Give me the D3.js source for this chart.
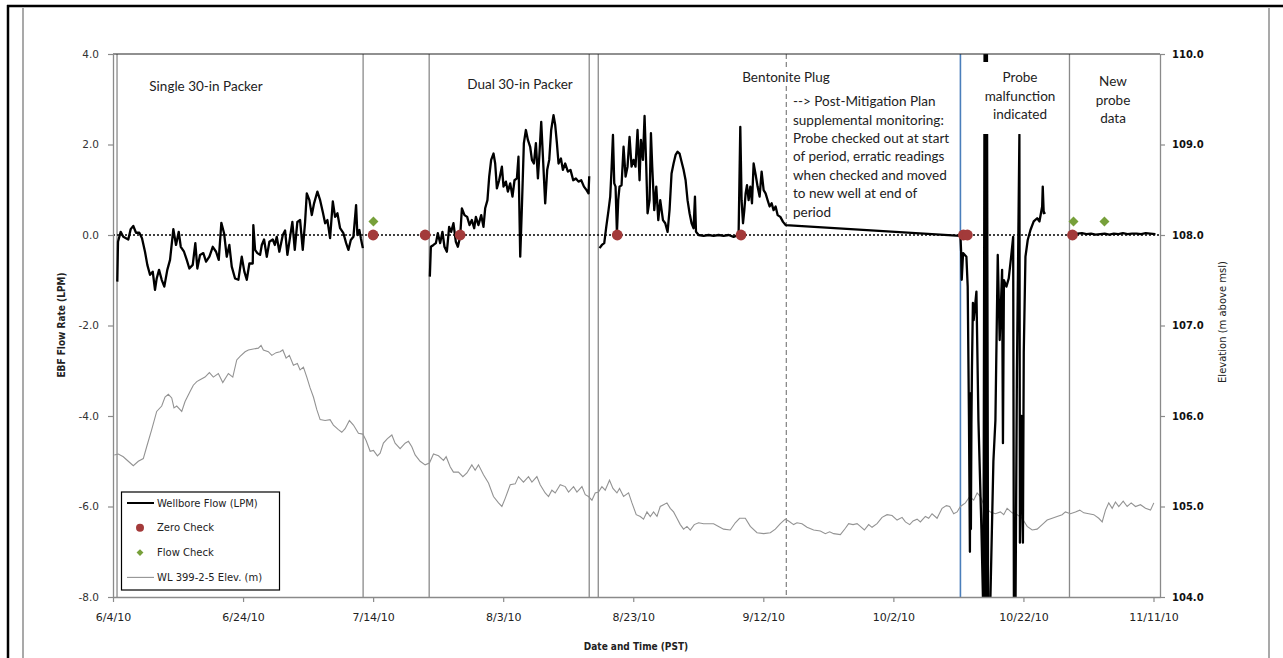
<!DOCTYPE html>
<html>
<head>
<meta charset="utf-8">
<script src="https://cdn.jsdelivr.net/npm/d3@7"></script>
<style>
  html, body { margin: 0; padding: 0; background: #fff; }
  svg { display: block; }
  .annot { font-family: Lato, "Open Sans", sans-serif; font-size: 13.5px; fill: #222; }
  .tick text { font-family: "DejaVu Sans", sans-serif; }
</style>
</head>
<body>
<svg id="chart" width="1283" height="658"></svg>
<script>
// ---- data (days after 6/4/10 00:00 PST, value) ----
const startDay = "2010-06-04";

// Wellbore flow (LPM), single 30-in packer
const flowSinglePacker = [
  [0.66,-1.03],[0.77,-0.15],[1.18,0.07],[1.58,-0.04],[2.35,-0.10],[2.72,0.13],[3.12,0.20],[3.54,0.05],
  [4.05,0.05],[4.46,-0.07],[4.92,-0.37],[5.28,-0.66],[5.69,-0.88],[6.11,-0.81],[6.46,-1.21],[6.72,-0.96],
  [7.08,-0.77],[7.49,-0.99],[7.89,-1.14],[8.35,-0.77],[8.77,-0.55],[9.28,0.13],[9.69,-0.22],[10.11,0.07],
  [10.42,-0.26],[10.92,-0.37],[11.34,-0.55],[11.74,-0.74],[12.26,-0.66],[12.66,-0.18],[12.97,-0.74],[13.38,-0.44],
  [13.89,-0.40],[14.31,-0.59],[14.82,-0.48],[15.34,-0.26],[15.85,-0.37],[16.26,-0.55],[16.66,0.27],[17.08,0.04],
  [17.49,-0.48],[17.89,-0.22],[18.26,-0.70],[18.77,-0.96],[19.28,-0.99],[19.80,-0.48],[20.20,-0.81],[20.57,-0.99],
  [20.97,-0.63],[21.49,-0.63],[21.58,0.22],[21.85,-0.33],[22.20,-0.40],[22.62,-0.44],[22.88,-0.22],[23.23,-0.10],
  [23.65,-0.48],[24.05,-0.15],[24.57,-0.10],[24.88,-0.22],[25.18,-0.04],[25.58,-0.37],[26.11,0.00],[26.46,0.10],
  [26.82,-0.44],[27.23,-0.04],[27.58,0.29],[27.95,-0.33],[28.35,0.29],[28.77,0.33],[29.18,-0.33],[29.54,0.29],
  [29.80,0.92],[30.20,0.77],[30.57,0.44],[30.92,0.70],[31.43,0.96],[31.85,0.77],[32.26,0.51],[32.62,0.26],
  [32.97,0.33],[33.38,-0.07],[33.80,0.74],[34.15,0.40],[34.51,0.48],[34.92,0.15],[35.43,0.04],[35.85,-0.18],
  [36.20,-0.33],[36.57,-0.11],[36.97,-0.04],[37.38,0.66],[37.58,0.00],[37.89,0.11],[38.11,-0.07],[38.42,-0.29]
];

// Wellbore flow (LPM), dual 30-in packer
const flowDualPacker = [
  [48.72,-0.92],[48.88,-0.26],[49.28,-0.22],[49.65,-0.18],[49.95,0.04],[50.31,-0.18],[50.66,0.07],[50.97,-0.26],
  [51.34,-0.37],[51.69,0.18],[52.00,0.07],[52.35,0.26],[52.72,-0.15],[53.03,-0.26],[53.38,-0.04],[53.65,0.59],
  [54.05,0.44],[54.46,0.40],[54.82,0.22],[55.18,0.33],[55.54,0.15],[55.80,0.40],[56.20,0.22],[56.62,0.44],
  [56.97,0.18],[57.23,0.59],[57.58,0.77],[57.85,1.29],[58.15,1.66],[58.51,1.80],[58.77,1.58],[59.03,1.03],
  [59.38,1.21],[59.80,1.51],[60.05,1.07],[60.42,1.18],[60.72,0.96],[61.08,1.14],[61.43,0.85],[61.74,1.21],
  [62.11,1.25],[62.35,1.73],[62.62,-0.48],[62.88,0.63],[63.18,2.03],[63.49,2.32],[63.80,2.10],[64.15,1.95],
  [64.42,1.66],[64.72,1.58],[65.03,2.03],[65.34,1.25],[65.58,1.80],[65.85,2.50],[66.11,1.73],[66.46,0.70],
  [66.77,1.44],[67.08,1.66],[67.38,2.32],[67.74,2.65],[68.00,2.43],[68.26,2.03],[68.51,1.58],[68.88,1.69],
  [69.18,1.44],[69.54,1.58],[69.95,1.40],[70.35,1.44],[70.77,1.21],[71.18,1.25],[71.58,1.18],[72.00,1.21],
  [72.42,1.07],[72.82,0.99],[73.12,0.92],[73.23,1.30]
];

// Wellbore flow (LPM), bentonite plug period through probe malfunction
const flowPlugPeriod = [
  [74.82,-0.29],[75.18,-0.22],[75.54,-0.18],[75.85,0.18],[76.20,0.55],[76.46,0.85],[76.66,1.44],[76.88,2.21],
  [77.08,1.14],[77.28,1.07],[77.49,0.04],[77.69,0.77],[77.89,1.07],[78.20,1.10],[78.51,1.95],[78.82,1.29],
  [79.12,1.51],[79.43,2.17],[79.74,1.51],[80.05,1.66],[80.35,1.51],[80.66,2.32],[80.97,1.21],[81.18,2.10],
  [81.49,1.66],[81.74,2.63],[82.00,1.51],[82.20,0.48],[82.51,0.77],[82.72,2.25],[82.92,1.51],[83.23,0.55],
  [83.54,1.07],[83.85,0.33],[84.15,0.77],[84.57,0.33],[84.92,0.26],[85.28,0.07],[85.58,0.55],[85.89,1.36],
  [86.20,1.58],[86.51,1.77],[86.82,1.84],[87.12,1.80],[87.43,1.62],[87.74,1.44],[88.05,1.21],[88.35,0.77],
  [88.66,0.48],[88.97,0.26],[89.28,0.15],[89.49,0.85],[89.65,0.07],[90.05,0.00],[90.82,-0.02],[91.58,0.00],
  [92.35,-0.02],[93.12,0.00],[93.89,-0.02],[94.66,0.00],[95.43,-0.04],[96.20,0.00],[96.46,2.39],[96.66,0.77],
  [96.88,0.26],[97.08,0.55],[97.28,0.92],[97.49,1.10],[97.74,0.77],[98.00,1.07],[98.26,0.70],[98.51,1.58],
  [98.82,1.33],[99.12,1.07],[99.43,0.85],[99.74,1.40],[100.05,0.99],[100.35,0.92],[100.66,0.77],[100.97,0.63],
  [101.28,0.70],[101.58,0.55],[101.89,0.63],[102.20,0.44],[102.62,0.40],[103.03,0.29],[103.43,0.22],
  [130.31,-0.02],[130.42,-0.37],[130.51,-0.99],[130.72,-0.40],[131.23,-0.48],[131.43,-1.14],[131.62,-4.0],
  [131.77,-7.0],[131.85,-3.5],[131.92,-6.5],[132.00,-4.2],[132.08,-3.0],[132.23,-1.5],[132.35,-1.88],[132.77,-1.25],
  [133.08,-4.1],[133.54,-6.5],[133.85,-8.5],[134.03,4.5],[134.20,-8.5],[134.38,4.5],[134.57,-8.5],[134.85,-8.5],
  [135.38,-5.0],[135.69,-4.1],[136.05,-0.44],[136.35,-2.32],[136.72,-0.77],[136.85,-4.6],[137.00,-1.0],[137.38,-1.14],
  [137.74,-0.96],[138.11,-0.48],[138.42,-0.04],[138.54,-8.5],[138.77,-8.5],[139.00,-3.0],[139.38,2.22],
  [139.46,-6.8],[139.69,-4.0],[139.92,-6.8],[140.05,-2.6],[140.31,-0.48],[140.66,-0.11],[141.08,0.11],
  [141.58,0.30],[142.11,0.37],[142.46,0.30],[142.88,0.63],[142.97,1.07],[143.12,0.48],[143.38,0.50]
];

// Wellbore flow (LPM), new probe
const flowNewProbe = [
  [147.58,0.00],[148.30,0.03],[149.00,0.04],[149.70,0.02],[150.40,0.03],[151.10,0.01],[151.80,0.02],
  [152.50,0.03],[153.20,0.01],[153.90,0.03],[154.60,0.02],[155.30,0.04],[156.00,0.02],[156.70,0.03],
  [157.40,0.03],[158.10,0.02],[158.80,0.04],[159.50,0.03],[160.30,0.02]
];

// Water level, well 399-2-5 (m above msl)
const wellElevation = [
  [0.20,105.57],[0.82,105.58],[1.58,105.55],[2.35,105.50],[3.12,105.45],[3.89,105.50],[4.66,105.53],[5.18,105.66],
  [5.95,105.85],[6.72,106.05],[7.49,106.11],[8.00,106.21],[8.51,106.24],[9.03,106.20],[9.38,106.09],[9.80,106.11],
  [10.57,106.05],[11.08,106.16],[11.85,106.27],[12.35,106.34],[12.88,106.38],[13.38,106.40],[14.15,106.43],[14.82,106.48],
  [15.43,106.43],[16.20,106.47],[16.88,106.37],[17.74,106.47],[18.42,106.43],[19.03,106.62],[19.54,106.66],[20.31,106.71],
  [20.82,106.73],[21.58,106.74],[22.35,106.75],[22.77,106.78],[23.12,106.73],[23.89,106.71],[24.42,106.67],[25.08,106.70],
  [25.69,106.71],[26.11,106.73],[26.62,106.64],[27.12,106.67],[27.74,106.56],[28.35,106.58],[28.77,106.51],[29.28,106.54],
  [29.80,106.43],[30.31,106.31],[30.82,106.21],[31.34,106.07],[31.85,105.96],[32.62,105.95],[33.38,105.96],[33.89,105.90],
  [34.66,105.85],[35.18,105.82],[35.69,105.86],[36.35,105.95],[36.97,105.90],[37.74,105.81],[38.42,105.80],[38.92,105.73],
  [39.54,105.61],[40.05,105.62],[40.66,105.56],[41.08,105.59],[41.58,105.70],[42.20,105.75],[42.88,105.79],[43.38,105.70],
  [44.15,105.64],[44.92,105.70],[45.43,105.72],[45.95,105.66],[46.46,105.57],[47.23,105.50],[48.00,105.46],[48.66,105.48],
  [49.28,105.58],[50.05,105.56],[50.82,105.51],[51.23,105.55],[51.85,105.44],[52.35,105.38],[53.12,105.38],[53.80,105.33],
  [54.42,105.37],[55.18,105.46],[55.69,105.40],[56.20,105.46],[56.97,105.35],[57.74,105.26],[58.51,105.11],[59.28,105.04],
  [59.80,105.00],[60.31,105.09],[61.08,105.24],[61.85,105.25],[62.35,105.33],[63.12,105.27],[63.89,105.33],[64.42,105.27],
  [65.18,105.33],[65.69,105.24],[66.46,105.15],[66.97,105.11],[67.49,105.18],[68.00,105.15],[68.77,105.24],[69.54,105.22],
  [70.05,105.16],[70.82,105.22],[71.34,105.16],[72.11,105.22],[72.62,105.13],[73.12,105.11],[73.65,105.07],[74.15,105.15],
  [74.66,105.16],[75.18,105.22],[75.69,105.18],[76.35,105.29],[76.88,105.20],[77.49,105.15],[77.89,105.20],[78.51,105.11],
  [79.28,105.15],[79.80,105.04],[80.46,104.91],[81.08,104.89],[81.58,104.86],[82.11,104.94],[82.62,104.89],[83.12,104.94],
  [83.65,104.89],[84.15,105.00],[84.66,105.02],[85.18,105.04],[85.69,104.98],[86.20,104.94],[86.72,104.87],[87.23,104.80],
  [87.74,104.75],[88.26,104.78],[88.77,104.74],[89.38,104.80],[90.05,104.82],[90.82,104.81],[91.58,104.81],[92.35,104.81],
  [93.12,104.78],[93.89,104.75],[94.92,104.74],[95.69,104.82],[96.35,104.87],[97.23,104.87],[98.00,104.78],[99.03,104.71],
  [100.05,104.70],[101.08,104.71],[101.85,104.75],[102.62,104.81],[103.38,104.86],[103.89,104.84],[104.66,104.80],[105.18,104.82],
  [105.95,104.81],[106.72,104.77],[107.74,104.74],[108.77,104.73],[109.54,104.70],[110.20,104.72],[110.82,104.70],[111.85,104.69],
  [112.62,104.76],[113.12,104.81],[113.80,104.80],[114.42,104.81],[114.92,104.78],[115.54,104.74],[116.20,104.80],[116.72,104.77],
  [117.49,104.81],[118.26,104.88],[119.03,104.91],[119.80,104.90],[120.57,104.85],[121.34,104.88],[121.85,104.83],[122.51,104.80],
  [123.03,104.84],[123.65,104.86],[124.15,104.83],[124.92,104.89],[125.43,104.87],[125.95,104.92],[126.72,104.87],[127.49,104.98],
  [128.15,105.01],[128.66,105.00],[129.28,104.92],[129.80,104.94],[130.31,105.00],[131.08,105.04],[131.74,105.11],[132.35,105.07],
  [132.88,105.15],[133.38,105.11],[134.15,104.98],[134.92,104.94],[135.69,104.92],[136.46,104.94],[136.97,104.91],[137.49,104.98],
  [138.26,104.93],[139.03,104.91],[139.80,104.87],[140.57,104.78],[141.34,104.74],[142.11,104.75],[142.88,104.80],[143.65,104.85],
  [144.42,104.87],[145.18,104.89],[145.95,104.91],[146.46,104.94],[147.23,104.92],[148.00,104.94],[148.66,104.96],[149.28,104.93],
  [150.05,104.92],[150.82,104.91],[151.58,104.87],[152.11,104.83],[152.62,104.96],[153.12,105.04],[153.65,104.98],[154.15,105.05],
  [154.66,105.00],[155.34,105.06],[155.95,105.00],[156.57,105.04],[157.23,105.00],[158.00,105.02],[158.77,104.98],[159.54,104.96],
  [160.05,105.04]
];

// Zero checks and flow checks (day, LPM)
const zeroChecks = [[40.00,0],[48.00,0],[53.38,0],[77.54,0],[96.57,0],[130.77,0],[131.38,0],[147.54,0]];
const flowChecks = [[40.05,0.3],[147.70,0.3],[152.46,0.3]];

// Period boundaries (day)
const packerChangeDays = [0.62, 38.46, 48.62, 73.23, 74.62];
const mitigationPlanDay = 103.54;
const probeFailureDay = 130.31;
const newProbeDay = 147.08;

// Axis ticks
const dateTicks = ["2010-06-04","2010-06-24","2010-07-14","2010-08-03","2010-08-23","2010-09-12","2010-10-02","2010-10-22","2010-11-11"];
const flowTicks = [-8, -6, -4, -2, 0, 2, 4];
const elevTicks = [104, 105, 106, 107, 108, 109, 110];
const axisEndDate = "2010-11-12";

// ---- chart ----
const svg = d3.select("#chart");
const plotLeft = 113, plotRight = 1160, plotTop = 54, plotBottom = 597;
const t0 = new Date(startDay + "T00:00:00Z").getTime();
const toDate = d => new Date(t0 + d * 864e5);
const parse = s => new Date(s + "T00:00:00Z");

const x = d3.scaleUtc().domain([parse(startDay), parse(axisEndDate)]).range([plotLeft, plotRight]);
const yFlow = d3.scaleLinear().domain([-8, 4]).range([plotBottom, plotTop]);
const yElev = d3.scaleLinear().domain([104, 110]).range([plotBottom, plotTop]);

// page frame
svg.append("line").attr("x1", 7).attr("x2", 1283).attr("y1", 6).attr("y2", 6).attr("stroke", "#000").attr("stroke-width", 2.5);
svg.append("line").attr("x1", 8).attr("x2", 8).attr("y1", 5).attr("y2", 658).attr("stroke", "#000").attr("stroke-width", 2.5);
svg.append("line").attr("x1", 23).attr("x2", 23).attr("y1", 8).attr("y2", 658).attr("stroke", "#8c8c8c").attr("stroke-width", 1.5);
svg.append("line").attr("x1", 1269).attr("x2", 1269).attr("y1", 8).attr("y2", 658).attr("stroke", "#8c8c8c").attr("stroke-width", 1.5);

svg.append("defs").append("clipPath").attr("id", "plotClip")
  .append("rect").attr("x", plotLeft).attr("y", plotTop).attr("width", plotRight - plotLeft).attr("height", plotBottom - plotTop);

const plot = svg.append("g").attr("clip-path", "url(#plotClip)");

// period boundary lines
const vline = (day, color, dash, w) => plot.append("line")
  .attr("x1", x(toDate(day))).attr("x2", x(toDate(day)))
  .attr("y1", plotTop).attr("y2", plotBottom)
  .attr("stroke", color).attr("stroke-width", w)
  .attr("stroke-dasharray", dash);

packerChangeDays.forEach(d => vline(d, "#8a8a8a", null, 1.3));
vline(mitigationPlanDay, "#8a8a8a", "5,3", 1.3);
vline(probeFailureDay, "#4a7ebb", null, 1.6);
vline(newProbeDay, "#8a8a8a", null, 1.3);

// zero reference
plot.append("line").attr("x1", plotLeft).attr("x2", plotRight)
  .attr("y1", yFlow(0)).attr("y2", yFlow(0))
  .attr("stroke", "#000").attr("stroke-width", 1.3).attr("stroke-dasharray", "2,2");

// water level
const elevLine = d3.line().x(d => x(toDate(d[0]))).y(d => yElev(d[1]));
plot.append("path").datum(wellElevation).attr("d", elevLine)
  .attr("fill", "none").attr("stroke", "#939393").attr("stroke-width", 1.1);

// wellbore flow
const flowLine = d3.line().x(d => x(toDate(d[0]))).y(d => yFlow(d[1]));
[flowSinglePacker, flowDualPacker, flowPlugPeriod, flowNewProbe].forEach(seg => {
  plot.append("path").datum(seg).attr("d", flowLine)
    .attr("fill", "none").attr("stroke", "#000").attr("stroke-width", 2.3)
    .attr("stroke-linejoin", "round");
});

// checks
plot.selectAll("circle.zero").data(zeroChecks).join("circle")
  .attr("class", "zero")
  .attr("cx", d => x(toDate(d[0]))).attr("cy", d => yFlow(d[1])).attr("r", 5.4)
  .attr("fill", "#a33a3a");
const diamond = d3.symbol().type(d3.symbolDiamond2).size(64);
plot.selectAll("path.flowcheck").data(flowChecks).join("path")
  .attr("class", "flowcheck")
  .attr("transform", d => `translate(${x(toDate(d[0]))},${yFlow(d[1])})`)
  .attr("d", diamond).attr("fill", "#77a03a");

// top border of plot area
svg.append("line").attr("x1", plotLeft).attr("x2", plotRight).attr("y1", plotTop).attr("y2", plotTop)
  .attr("stroke", "#222").attr("stroke-width", 1.2);

// axes
const fmtDate = d => `${d.getUTCMonth() + 1}/${d.getUTCDate()}/${String(d.getUTCFullYear()).slice(2)}`;
const styleAxis = g => {
  g.select(".domain").attr("stroke", "#8a8a8a").attr("stroke-width", 1.3);
  g.selectAll(".tick line").attr("stroke", "#8a8a8a").attr("stroke-width", 1.2);
};

svg.append("g").attr("transform", `translate(0,${plotBottom})`)
  .call(d3.axisBottom(x).tickValues(dateTicks.map(parse)).tickFormat(fmtDate).tickSize(5).tickSizeOuter(0).tickPadding(11))
  .call(styleAxis)
  .call(g => g.selectAll(".tick text").attr("font-size", 11).attr("fill", "#222"));

svg.append("g").attr("transform", `translate(${plotLeft},0)`)
  .call(d3.axisLeft(yFlow).tickValues(flowTicks).tickFormat(d => d.toFixed(1)).tickSize(5).tickSizeOuter(0).tickPadding(9))
  .call(styleAxis)
  .call(g => g.selectAll(".tick text").attr("font-size", 10.5).attr("fill", "#333"));

svg.append("g").attr("transform", `translate(${plotRight},0)`)
  .call(d3.axisRight(yElev).tickValues(elevTicks).tickFormat(d => d.toFixed(1)).tickSize(5).tickSizeOuter(0).tickPadding(7))
  .call(styleAxis)
  .call(g => g.selectAll(".tick text").attr("font-size", 10).attr("font-weight", "bold").attr("fill", "#111"));

// axis titles
svg.append("text").attr("x", 636).attr("y", 650).attr("text-anchor", "middle")
  .attr("font-family", "'DejaVu Sans Condensed', 'DejaVu Sans', sans-serif").attr("font-weight", "bold")
  .attr("font-size", 10).attr("fill", "#222").text("Date and Time (PST)");
svg.append("text").attr("transform", "translate(65,325) rotate(-90)").attr("text-anchor", "middle")
  .attr("font-family", "'DejaVu Sans Condensed', 'DejaVu Sans', sans-serif").attr("font-weight", "bold")
  .attr("font-size", 10).attr("fill", "#222").text("EBF Flow Rate (LPM)");
svg.append("text").attr("transform", "translate(1226,322) rotate(-90)").attr("text-anchor", "middle")
  .attr("font-family", "'DejaVu Sans', sans-serif")
  .attr("font-size", 10).attr("fill", "#222").text("Elevation (m above msl)");

// annotations
const annot = (lines, cx, cy, lh, anchor, bg) => {
  const g = svg.append("g");
  if (bg) g.append("rect").attr("x", bg[0]).attr("y", bg[1]).attr("width", bg[2]).attr("height", bg[3]).attr("fill", "#fff");
  lines.forEach((s, i) => g.append("text").attr("class", "annot")
    .attr("x", cx).attr("y", cy + i * lh).attr("dy", "0.35em")
    .attr("text-anchor", anchor).text(s));
};
annot(["Single 30-in Packer"], 206, 86, 0, "middle");
annot(["Dual 30-in Packer"], 520, 84, 0, "middle");
annot(["Bentonite Plug"], 786, 77, 0, "middle", [738, 68, 96, 18]);
annot(["--> Post-Mitigation Plan", "supplemental monitoring:", "Probe checked out at start",
       "of period, erratic readings", "when checked and moved", "to new well at end of", "period"],
      793, 101.5, 18.4, "start");
annot(["Probe", "malfunction", "indicated"], 1020, 77.5, 18.4, "middle", [970, 62, 94, 72]);
annot(["New", "probe", "data"], 1113, 81.5, 18.4, "middle");

// legend
const lg = svg.append("g").attr("font-family", "'DejaVu Sans', sans-serif").attr("font-size", 10).attr("fill", "#222");
lg.append("rect").attr("x", 121.5).attr("y", 492).attr("width", 158).attr("height", 98)
  .attr("fill", "#fff").attr("stroke", "#000").attr("stroke-width", 1.2);
const items = [
  {label: "Wellbore Flow (LPM)", kind: "flow"},
  {label: "Zero Check", kind: "zero"},
  {label: "Flow Check", kind: "check"},
  {label: "WL 399-2-5 Elev. (m)", kind: "elev"}
];
items.forEach((it, i) => {
  const yy = 503 + i * 24.8;
  if (it.kind === "flow") lg.append("line").attr("x1", 127).attr("x2", 154).attr("y1", yy).attr("y2", yy).attr("stroke", "#000").attr("stroke-width", 2);
  if (it.kind === "elev") lg.append("line").attr("x1", 127).attr("x2", 154).attr("y1", yy).attr("y2", yy).attr("stroke", "#939393").attr("stroke-width", 1.1);
  if (it.kind === "zero") lg.append("circle").attr("cx", 140).attr("cy", yy).attr("r", 4).attr("fill", "#a33a3a");
  if (it.kind === "check") lg.append("path").attr("transform", `translate(140,${yy})`).attr("d", d3.symbol().type(d3.symbolDiamond2).size(30)).attr("fill", "#77a03a");
  lg.append("text").attr("x", 157).attr("y", yy).attr("dy", "0.35em").text(it.label);
});
</script>
</body>
</html>
